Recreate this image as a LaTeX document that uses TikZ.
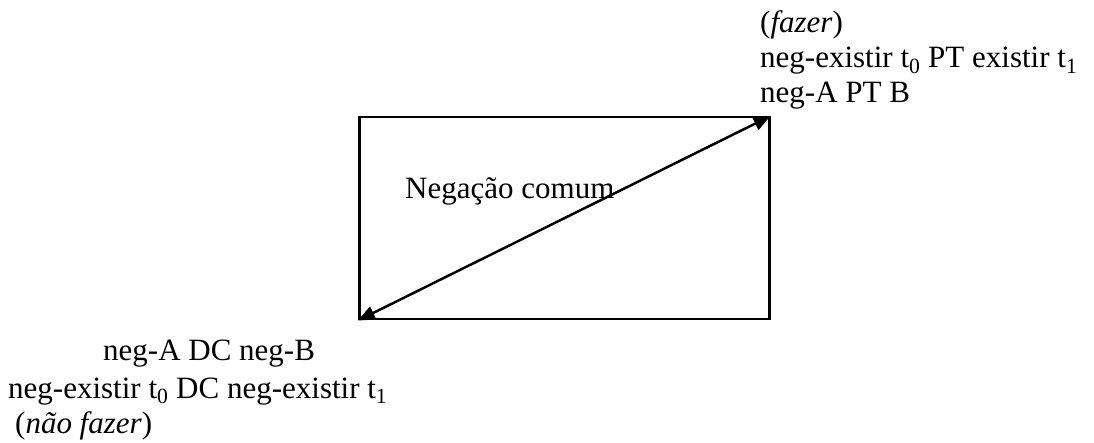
\documentclass[tikz,border=0pt]{standalone}
\usepackage{fontspec}
\setmainfont{Liberation Serif}
\usetikzlibrary{arrows.meta}
\begin{document}
\begin{tikzpicture}[x=1pt,y=-1pt,
  lbl/.style={anchor=base west, inner sep=0pt, font=\fontsize{31}{36}\selectfont},
  box/.style={draw, line width=2.5pt, inner sep=0pt, minimum width=410pt, minimum height=202pt, anchor=north west},
  arr/.style={line width=2.5pt, {Triangle[length=17pt,width=14pt]}-{Triangle[length=17pt,width=14pt]}}]
\useasboundingbox (0,0) rectangle (1094,443);
\node[box] (rect) at (358,116) {};
\coordinate (bl) at (rect.south west);
\coordinate (tr) at (rect.north east);
\draw[arr] (bl) -- (tr);
\node[lbl] (f1) at (760,33) {(\textit{fazer})};
\node[lbl] (f2) at (760,68) {neg-existir t\textsubscript{0} PT existir t\textsubscript{1}};
\node[lbl] (f3) at (760,103) {neg-A PT B};
\node[lbl] (nc) at (405,199) {Negação comum};
\node[lbl] (b1) at (103,360) {neg-A DC neg-B};
\node[lbl] (b2) at (8,398) {neg-existir t\textsubscript{0} DC neg-existir t\textsubscript{1}};
\node[lbl] (b3) at (15,433) {(\textit{não fazer})};
\end{tikzpicture}
\end{document}
